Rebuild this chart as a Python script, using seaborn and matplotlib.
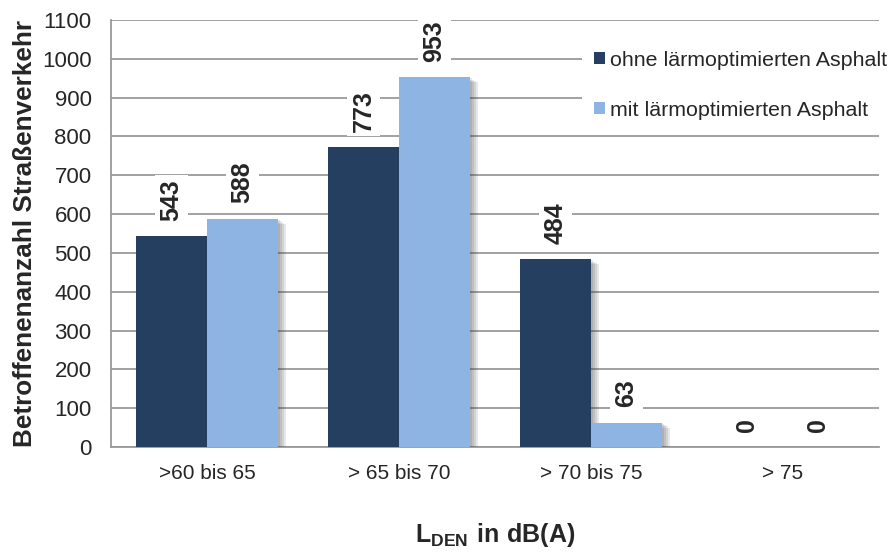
import pandas as pd
import numpy as np
import seaborn as sns
import matplotlib.pyplot as plt
import matplotlib.patheffects as pe

# data
categories = ['>60 bis 65', '> 65 bis 70', '> 70 bis 75', '> 75']
ohne = [543, 773, 484, 0]
mit = [588, 953, 63, 0]
series = ['ohne lärmoptimierten Asphalt', 'mit lärmoptimierten Asphalt']

df = pd.DataFrame({
    'Kategorie': categories * 2,
    'Wert': ohne + mit,
    'Serie': [series[0]] * len(categories) + [series[1]] * len(categories),
})

sns.set_style('white')
plt.rcParams['font.family'] = ['Liberation Sans', 'DejaVu Sans']
plt.rcParams['mathtext.fontset'] = 'custom'
plt.rcParams['mathtext.bf'] = 'Liberation Sans:bold'
plt.rcParams['mathtext.rm'] = 'Liberation Sans'

fig = plt.figure(figsize=(8.95, 5.54), dpi=100)
ax = fig.add_axes([0.124, 0.193, 0.858, 0.771])

palette = ['#243F60', '#8EB4E3']
sns.barplot(data=df, x='Kategorie', y='Wert', hue='Serie', palette=palette,
            width=0.74, gap=0, saturation=1, ax=ax, zorder=3)

# soft drop shadow like the office chart
shadow = [pe.SimplePatchShadow(offset=(o, -o * 0.6), shadow_rgbFace='#404040', alpha=0.12)
          for o in (6, 4.5, 3, 1.5)] + [pe.Normal()]
for bar in ax.patches:
    bar.set_path_effects(shadow)
    bar.set_edgecolor('none')

for cont in ax.containers:
    for bar, val in zip(cont, cont.datavalues):
        ax.annotate(f'{val:.0f}', (bar.get_x() + bar.get_width() / 2, bar.get_height()),
                    xytext=(0, 11), textcoords='offset points', ha='center', va='bottom',
                    rotation=90, fontsize=18, fontweight='bold', zorder=5,
                    bbox=dict(facecolor='white', edgecolor='none', pad=3))

ax.set_ylim(0, 1100)
ax.set_yticks(np.arange(0, 1101, 100))
ax.set_xlim(-0.5, 3.5)
ax.yaxis.grid(True, color='#9a9a9a', linewidth=1.3, zorder=0)
ax.set_axisbelow(True)
for s in ['top', 'right']:
    ax.spines[s].set_visible(False)
for s in ['left', 'bottom']:
    ax.spines[s].set_color('#9a9a9a')
    ax.spines[s].set_linewidth(1.3)

ax.tick_params(axis='y', length=5, color='#9a9a9a', width=1.3, labelsize=16, pad=9)
ax.tick_params(axis='x', which='major', length=0, labelsize=15, pad=12)
ax.set_xticks(np.arange(-0.5, 4, 1), minor=True)
ax.tick_params(axis='x', which='minor', length=5, color='#9a9a9a', width=1.3)

ax.set_ylabel('Betroffenenanzahl Straßenverkehr', fontsize=18.8, fontweight='bold', labelpad=3.5)
ax.set_xlabel('')
fig.text(0.553, 0.034, r'$\mathbf{L_{DEN}\ in\ dB(A)}$', fontsize=18, ha='center', va='center')

leg = ax.legend(loc='upper left', bbox_to_anchor=(0.65, 0.93), bbox_transform=fig.transFigure,
                frameon=True, fontsize=15.4, handlelength=0.55, handleheight=0.55,
                handletextpad=0.2, labelspacing=1.45, borderpad=0.55, borderaxespad=0,
                title=None)
leg.get_frame().set_facecolor('white')
leg.get_frame().set_edgecolor('none')
leg.get_frame().set_alpha(1)
leg.set_zorder(6)
for h in leg.legend_handles:
    h.set_path_effects([])

plt.savefig('out.png', dpi=100)
